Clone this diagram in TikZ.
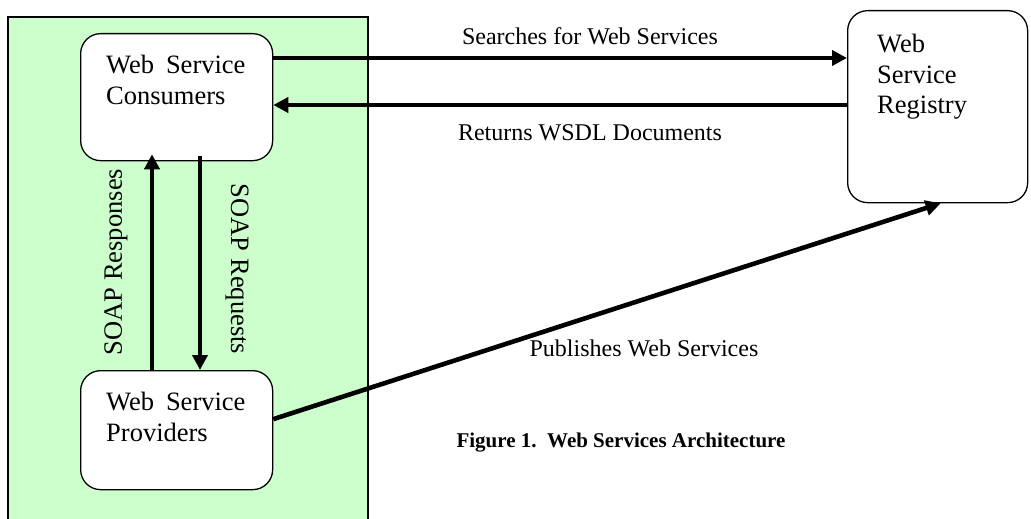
\documentclass[tikz,border=0pt]{standalone}
\usepackage{fontspec}
\setmainfont{Liberation Serif}
\usepackage{tikz}
\usetikzlibrary{
  positioning,
  arrows.meta
}
\definecolor{panelgreen}{HTML}{CCFFCC}

\begin{document}
\begin{tikzpicture}[x=1pt,y=-1pt,
  box/.style={draw,line width=1.3pt,rounded corners=20pt,fill=white,anchor=north west},
  boxtext/.style={anchor=north west,align=left,inner sep=0pt,font=\fontsize{26.5}{30.5}\selectfont},
  lbl/.style={inner sep=0pt,font=\fontsize{24}{28}\selectfont},
  vlbl/.style={inner sep=0pt,font=\fontsize{26.5}{30}\selectfont},
  flow/.style={line width=4.6pt,-{Triangle[length=15pt,width=15pt]}}
]
\useasboundingbox (0,0) rectangle (1031,519);
% green panel
\draw[fill=panelgreen,line width=1.3pt] (8,17) rectangle (368,540);

\node[box,minimum width=192pt,minimum height=127pt] (consumers) at (80,33) {};
\node[box,minimum width=192pt,minimum height=119pt] (providers) at (80,370) {};
\node[box,minimum width=180pt,minimum height=192pt] (registry) at (847,10) {};

\node[boxtext] (consumerstext) at (106,55) {Web\hspace{0.45em}Service\\Consumers};
\node[boxtext] (providerstext) at (106,392) {Web\hspace{0.45em}Service\\Providers};
\node[boxtext] (registrytext) at (877,34) {Web\\Service\\Registry};

\coordinate (searchstart) at ([yshift=-25pt]consumers.north east);
\coordinate (returnend) at ([yshift=-72pt]consumers.north east);
\draw[flow] (searchstart) -- (searchstart -| registry.west);
\draw[flow] (returnend -| registry.west) -- (returnend);

\draw[flow] ([xshift=72pt]providers.north west) -- ([xshift=72pt,yshift=7pt]consumers.south west);
\draw[flow] ([xshift=120pt,yshift=5pt]consumers.south west) -- ([xshift=120pt]providers.north west);
\draw[flow] ([yshift=11pt]providers.east) -- ([xshift=3pt]registry.south);

\node[lbl] (searchlbl) at (590,36) {Searches for Web Services};
\node[lbl] (returnlbl) at (590,133) {Returns WSDL Documents};
\node[vlbl,rotate=90] (responselbl) at (116,262) {SOAP Responses};
\node[vlbl,rotate=-90] (requestlbl) at (237,269) {SOAP Requests};
\node[lbl] (publishlbl) at (644,348) {Publishes Web Services};
\node[inner sep=0pt,font=\fontsize{21}{25}\selectfont\bfseries] (caption) at (621,443) {Figure 1.\ \ Web Services Architecture};
\end{tikzpicture}
\end{document}
